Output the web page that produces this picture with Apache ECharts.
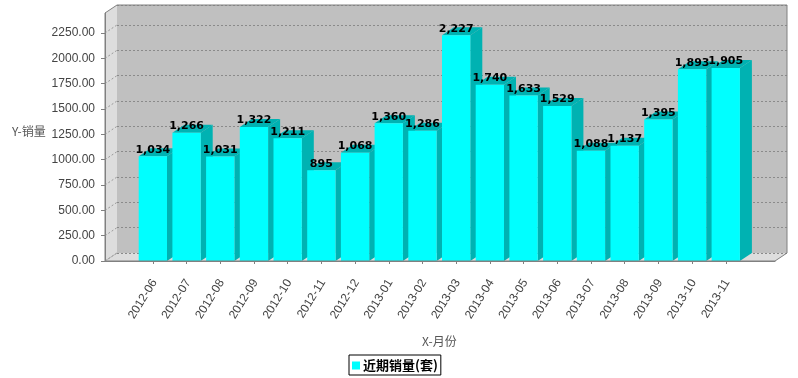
<!DOCTYPE html>
<html>
<head>
<meta charset="utf-8">
<script src="https://cdn.jsdelivr.net/npm/echarts@6/dist/echarts.min.js"></script>
<style>html,body{margin:0;padding:0;background:#fff}#c{width:798px;height:378px}</style>
</head>
<body>
<div id="c"></div>
<script>
const categories = ['2012-06','2012-07','2012-08','2012-09','2012-10','2012-11','2012-12','2013-01','2013-02','2013-03','2013-04','2013-05','2013-06','2013-07','2013-08','2013-09','2013-10','2013-11'];
const salesValues = [1034, 1266, 1031, 1322, 1211, 895, 1068, 1360, 1286, 2227, 1740, 1633, 1529, 1088, 1137, 1395, 1893, 1905];
const yTicks = [0, 250, 500, 750, 1000, 1250, 1500, 1750, 2000, 2250];
const seriesName = '近期销量(套)';
const yName = 'Y-销量';
const xName = 'X-月份';

// layout constants (pixels)
const L = 105, R = 775, T = 13, B = 261, DX = 12, DY = 8, W = 798, H = 378;
const YMAX = 2447;
const barLeft = 136, barRight = 742.6;

function fmt(v){ return v.toLocaleString('en-US'); }

const chart = echarts.init(document.getElementById('c'), null, {renderer:'canvas'});
const option = {
  backgroundColor: '#fff',
  animation: false,
  grid: [
    {left: L, right: W - R, top: T, bottom: H - B},
    {left: barLeft, right: W - barRight, top: T, bottom: H - B},
    {left: L + DX, right: W - R - DX, top: T - DY, bottom: H - B + DY, show: true, backgroundColor: '#c0c0c0', borderWidth: 0}
  ],
  xAxis: [
    {gridIndex: 0, type: 'value', min: 0, max: 1, offset: 4,
     axisLine: {show: true, lineStyle: {color: '#808080'}}, axisTick: {show: false}, axisLabel: {show: false}, splitLine: {show: false}},
    {gridIndex: 1, type: 'category', data: categories, offset: 4,
     axisLine: {show: false}, axisTick: {show: true, alignWithLabel: true, length: 3, lineStyle: {color: '#808080'}},
     axisLabel: {rotate: 58, margin: 18, fontSize: 12, color: '#444', fontFamily: 'Liberation Sans, Arial, sans-serif', interval: 0,
       padding: [38, -3, 0, 0]},
     name: xName, nameLocation: 'middle', nameGap: 70,
     nameTextStyle: {fontSize: 12, color: '#555', fontFamily: 'Noto Sans CJK SC, sans-serif'}},
    {gridIndex: 2, type: 'value', min: 0, max: 1, show: false}
  ],
  yAxis: [
    {gridIndex: 0, type: 'value', min: 0, max: YMAX, interval: 250, offset: 3,
     axisLine: {show: true, lineStyle: {color: '#808080'}},
     axisTick: {show: true, length: 4, lineStyle: {color: '#808080'}},
     axisLabel: {margin: 7, fontSize: 12, color: '#444', fontFamily: 'Liberation Sans, Arial, sans-serif', showMaxLabel: false,
       formatter: v => v.toFixed(2)},
     splitLine: {show: false},
     name: yName, nameLocation: 'middle', nameRotate: 0, nameGap: 55,
     nameTextStyle: {fontSize: 12, color: '#555', fontFamily: 'Noto Sans CJK SC, sans-serif', align: 'right', verticalAlign: 'bottom'}},
    {gridIndex: 1, type: 'value', min: 0, max: YMAX, show: false},
    {gridIndex: 2, type: 'value', min: 0, max: YMAX, interval: 250,
     axisLine: {show: false}, axisTick: {show: false}, axisLabel: {show: false},
     splitLine: {show: true, lineStyle: {color: '#8a8a8a', type: [2, 2], width: 1}}}
  ],
  legend: {
    show: true, left: 349, top: 355, orient: 'horizontal',
    data: [seriesName], icon: 'rect', itemWidth: 8, itemHeight: 8,
    borderColor: '#000', borderWidth: 1, padding: [4, 3, 3, 3],
    textStyle: {fontSize: 13, fontWeight: 'bold', color: '#000', fontFamily: 'Noto Sans CJK SC, sans-serif', padding: [0,0,0,-2]}
  },
  graphic: [
    {type: 'polygon', z: -5, silent: true, shape: {points: [[L, T], [L + DX, T - DY], [L + DX, B - DY], [L, B]]}, style: {fill: '#dddddd'}},
    {type: 'polygon', z: -5, silent: true, shape: {points: [[L, B], [L + DX, B - DY], [R + DX, B - DY], [R, B]]}, style: {fill: '#dddddd'}},
    {type: 'polyline', z: 50, silent: true, shape: {points: [[L, B], [L, T], [L + DX, T - DY], [R + DX, T - DY], [R + DX, B - DY], [R, B], [L, B]]}, style: {stroke: '#808080', fill: null, lineWidth: 1}},
    {type: 'polyline', z: -4, silent: true, shape: {points: [[L, B], [L + DX, B - DY]]}, style: {stroke: '#b8b8b8', fill: null, lineWidth: 1}}
  ],
  series: [
    {
      type: 'custom', name: 'wallTicks', xAxisIndex: 0, yAxisIndex: 0, silent: true, z: 1,
      data: yTicks.map(v => [0, v]),
      renderItem: function(params, api){
        const p = api.coord([0, api.value(1)]);
        return {type: 'line', shape: {x1: p[0], y1: p[1], x2: p[0] + DX, y2: p[1] - DY},
          style: {stroke: '#9a9a9a', lineWidth: 1, lineDash: [2, 2]}};
      }
    },
    {
      type: 'custom', name: seriesName, xAxisIndex: 1, yAxisIndex: 1, z: 10,
      itemStyle: {color: '#00ffff'},
      data: salesValues.map((v, i) => [i, v]),
      renderItem: function(params, api){
        const i = api.value(0), v = api.value(1);
        const top = api.coord([i, v]);
        const base = api.coord([i, 0]);
        const band = api.size([1, 0])[0];
        const w = band * 0.84;
        const x0 = top[0] - w / 2, x1 = top[0] + w / 2;
        return {type: 'group', children: [
          {type: 'polygon', shape: {points: [[x1, top[1]], [x1 + DX, top[1] - DY], [x1 + DX, base[1] - DY], [x1, base[1]]]}, style: {fill: '#00b2b2'}},
          {type: 'polygon', shape: {points: [[x0, top[1]], [x0 + DX, top[1] - DY], [x1 + DX, top[1] - DY], [x1, top[1]]]}, style: {fill: '#00b2b2'}},
          {type: 'rect', shape: {x: x0, y: top[1], width: w, height: base[1] - top[1]}, style: {fill: '#00ffff'}},
          {type: 'text', x: top[0], y: top[1] - 1, z2: 100, style: {text: fmt(v), fill: '#000', font: 'bold 11px "DejaVu Sans", sans-serif', textAlign: 'center', textVerticalAlign: 'bottom'}}
        ]};
      }
    }
  ]
};
chart.setOption(option);
</script>
</body>
</html>
